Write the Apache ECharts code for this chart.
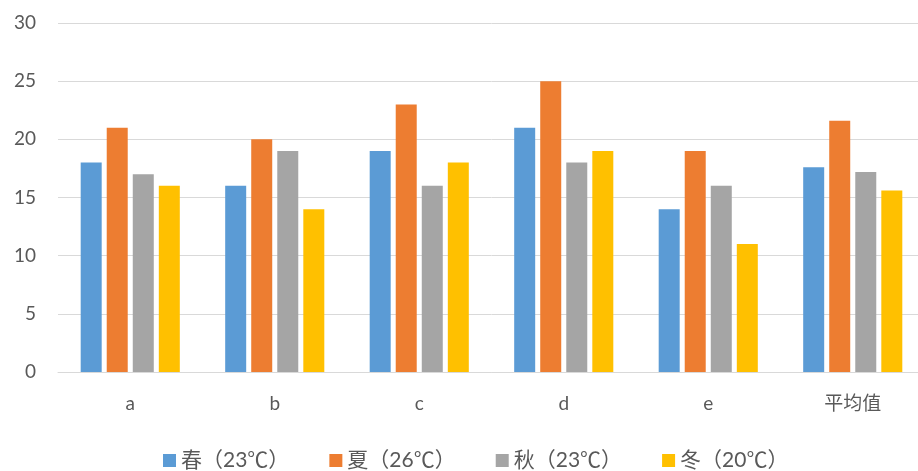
<!DOCTYPE html>
<html>
<head>
<meta charset="utf-8">
<script src="https://cdn.jsdelivr.net/npm/echarts@6/dist/echarts.min.js"></script>
<style>
  html, body { margin: 0; padding: 0; background: #ffffff; overflow: hidden; }
  #chart { width: 925px; height: 471px; }
</style>
</head>
<body>
<div id="chart"></div>
<script>
// Seasonal readings per site, plus the overall average
const categories = ['a', 'b', 'c', 'd', 'e', '平均值'];
const seriesNames = ['春（23℃）', '夏（26℃）', '秋（23℃）', '冬（20℃）'];
const spring = [18, 16, 19, 21, 14, 17.6];
const summer = [21, 20, 23, 25, 19, 21.6];
const autumn = [17, 19, 16, 18, 16, 17.2];
const winter = [16, 14, 18, 19, 11, 15.6];
const yTicks = [0, 5, 10, 15, 20, 25, 30];

const colors = ['#5B9BD5', '#ED7D31', '#A5A5A5', '#FFC000'];
const fontFamily = 'Lato, "Noto Sans CJK SC", sans-serif';
const values = [spring, summer, autumn, winter];

const chart = echarts.init(document.getElementById('chart'));
chart.setOption({
  animation: false,
  color: colors,
  textStyle: { fontFamily: fontFamily },
  grid: { left: 58, right: 0, top: 23, height: 349 },
  legend: {
    top: 445,
    left: 158,
    icon: 'rect',
    itemWidth: 13,
    itemHeight: 13,
    itemGap: 40,
    textStyle: { fontSize: 21, color: '#595959', fontFamily: fontFamily },
    data: seriesNames
  },
  xAxis: {
    type: 'category',
    data: categories,
    axisLine: { lineStyle: { color: '#D9D9D9', width: 1 } },
    axisTick: { show: false },
    axisLabel: { fontSize: 19, color: '#595959', margin: 22, fontFamily: fontFamily }
  },
  yAxis: {
    type: 'value',
    min: yTicks[0],
    max: yTicks[yTicks.length - 1],
    interval: 5,
    axisLine: { show: false },
    axisTick: { show: false },
    splitLine: { lineStyle: { color: '#D9D9D9', width: 1 } },
    axisLabel: { fontSize: 19, color: '#595959', margin: 22, fontFamily: fontFamily }
  },
  series: seriesNames.map((name, i) => ({
    name: name,
    type: 'bar',
    data: values[i],
    barWidth: 21,
    barGap: '24%',
    itemStyle: { color: colors[i] }
  }))
});
</script>
</body>
</html>
